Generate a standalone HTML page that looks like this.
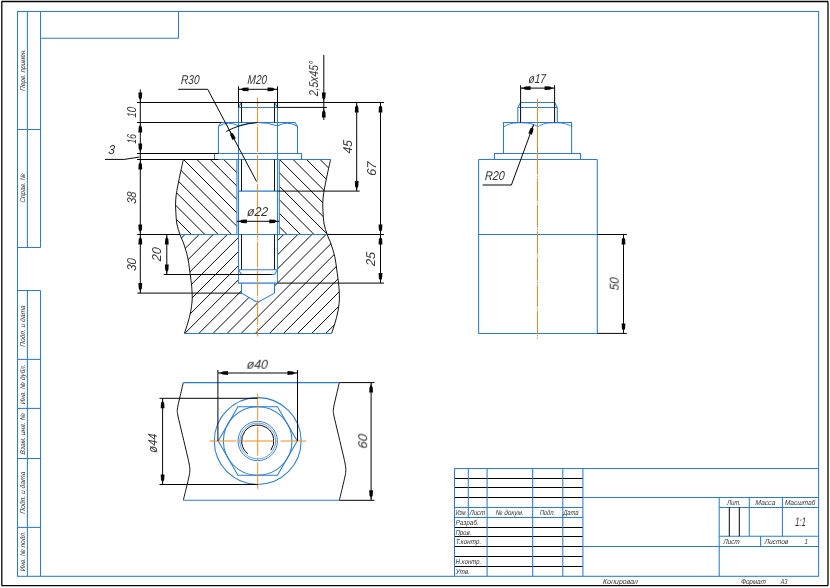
<!DOCTYPE html>
<html><head><meta charset="utf-8"><title>Чертеж</title>
<style>
html,body{margin:0;padding:0;background:#fff;}
body{width:830px;height:588px;overflow:hidden;font-family:"Liberation Sans",sans-serif;}
svg{display:block;}
svg text{font-family:"Liberation Sans",sans-serif;font-style:italic;}
</style></head><body>
<svg width="830" height="588" viewBox="0 0 830 588">
<rect width="830" height="588" fill="#ffffff"/>
<defs>
<clipPath id="ct"><path d="M183.40,159.40 C182.95,161.43 181.62,167.30 180.70,171.60 C179.78,175.90 178.65,181.30 177.90,185.20 C177.15,189.10 176.58,192.03 176.20,195.00 C175.82,197.97 175.67,200.27 175.60,203.00 C175.53,205.73 175.58,207.90 175.80,211.40 C176.02,214.90 176.20,220.15 176.90,224.00 C177.60,227.85 179.48,232.75 180.00,234.50 L236.9,234.5 L236.9,159.5 Z"/><path d="M330.60,159.40 C330.15,161.43 328.82,167.30 327.90,171.60 C326.98,175.90 325.85,181.30 325.10,185.20 C324.35,189.10 323.78,192.03 323.40,195.00 C323.02,197.97 322.87,200.27 322.80,203.00 C322.73,205.73 322.78,207.90 323.00,211.40 C323.22,214.90 323.40,220.15 324.10,224.00 C324.80,227.85 326.68,232.75 327.20,234.50 L279.3,234.5 L279.3,159.5 Z"/></clipPath>
<clipPath id="cb"><path d="M180.00,234.50 C180.63,236.08 182.53,240.27 183.80,244.00 C185.07,247.73 186.63,252.57 187.60,256.90 C188.57,261.23 188.97,265.53 189.60,270.00 C190.23,274.47 190.98,279.83 191.40,283.70 C191.82,287.57 191.98,290.32 192.10,293.20 C192.22,296.08 192.35,297.87 192.10,301.00 C191.85,304.13 191.32,308.33 190.60,312.00 C189.88,315.67 188.83,319.43 187.80,323.00 C186.77,326.57 184.97,331.67 184.40,333.40 L257.6,333.4 L257.6,302.5 L241.5,293.1 L241.5,283.1 L238.5,283.1 L238.5,234.5 Z"/><path d="M327.20,234.50 C327.83,236.08 329.73,240.27 331.00,244.00 C332.27,247.73 333.83,252.57 334.80,256.90 C335.77,261.23 336.17,265.53 336.80,270.00 C337.43,274.47 338.18,279.83 338.60,283.70 C339.02,287.57 339.18,290.32 339.30,293.20 C339.42,296.08 339.55,297.87 339.30,301.00 C339.05,304.13 338.52,308.33 337.80,312.00 C337.08,315.67 336.03,319.43 335.00,323.00 C333.97,326.57 332.17,331.67 331.60,333.40 L257.6,333.4 L257.6,302.5 L274.5,293.1 L274.5,283.1 L277.5,283.1 L277.5,234.5 Z"/></clipPath>
<clipPath id="ctl"><path d="M183.40,159.40 C182.95,161.43 181.62,167.30 180.70,171.60 C179.78,175.90 178.65,181.30 177.90,185.20 C177.15,189.10 176.58,192.03 176.20,195.00 C175.82,197.97 175.67,200.27 175.60,203.00 C175.53,205.73 175.58,207.90 175.80,211.40 C176.02,214.90 176.20,220.15 176.90,224.00 C177.60,227.85 179.48,232.75 180.00,234.50 L236.9,234.5 L236.9,159.5 Z"/></clipPath>
<clipPath id="ctr"><path d="M330.60,159.40 C330.15,161.43 328.82,167.30 327.90,171.60 C326.98,175.90 325.85,181.30 325.10,185.20 C324.35,189.10 323.78,192.03 323.40,195.00 C323.02,197.97 322.87,200.27 322.80,203.00 C322.73,205.73 322.78,207.90 323.00,211.40 C323.22,214.90 323.40,220.15 324.10,224.00 C324.80,227.85 326.68,232.75 327.20,234.50 L279.3,234.5 L279.3,159.5 Z"/></clipPath>
</defs>
<line x1="1.50" y1="1.50" x2="828.00" y2="1.50" stroke="#050505" stroke-width="1.3"/>
<line x1="828.00" y1="1.50" x2="828.00" y2="585.60" stroke="#050505" stroke-width="1.3"/>
<line x1="1.50" y1="585.60" x2="828.00" y2="585.60" stroke="#050505" stroke-width="1.3"/>
<line x1="1.80" y1="1.50" x2="1.80" y2="585.60" stroke="#050505" stroke-width="1.3"/>
<rect x="17.5" y="11.5" width="801.1" height="564.8" fill="none" stroke="#2b7bd6" stroke-width="1.05"/>
<line x1="40.50" y1="38.30" x2="178.50" y2="38.30" stroke="#2b7bd6" stroke-width="1.05"/>
<line x1="178.50" y1="11.50" x2="178.50" y2="38.30" stroke="#2b7bd6" stroke-width="1.05"/>
<line x1="40.50" y1="11.50" x2="40.50" y2="247.50" stroke="#2b7bd6" stroke-width="1.05"/>
<line x1="27.40" y1="11.50" x2="27.40" y2="247.50" stroke="#2b7bd6" stroke-width="1.05"/>
<line x1="17.50" y1="129.50" x2="40.50" y2="129.50" stroke="#2b7bd6" stroke-width="1.05"/>
<line x1="17.50" y1="247.50" x2="40.50" y2="247.50" stroke="#2b7bd6" stroke-width="1.05"/>
<line x1="40.50" y1="290.50" x2="40.50" y2="576.30" stroke="#2b7bd6" stroke-width="1.05"/>
<line x1="27.40" y1="290.50" x2="27.40" y2="576.30" stroke="#2b7bd6" stroke-width="1.05"/>
<line x1="17.50" y1="290.50" x2="40.50" y2="290.50" stroke="#2b7bd6" stroke-width="1.05"/>
<line x1="17.50" y1="359.40" x2="40.50" y2="359.40" stroke="#2b7bd6" stroke-width="1.05"/>
<line x1="17.50" y1="408.40" x2="40.50" y2="408.40" stroke="#2b7bd6" stroke-width="1.05"/>
<line x1="17.50" y1="458.50" x2="40.50" y2="458.50" stroke="#2b7bd6" stroke-width="1.05"/>
<line x1="17.50" y1="527.40" x2="40.50" y2="527.40" stroke="#2b7bd6" stroke-width="1.05"/>
<line x1="454.50" y1="468.50" x2="818.60" y2="468.50" stroke="#2b7bd6" stroke-width="1.05"/>
<line x1="454.50" y1="478.50" x2="582.90" y2="478.50" stroke="#050505" stroke-width="1.1"/>
<line x1="454.50" y1="487.50" x2="582.90" y2="487.50" stroke="#050505" stroke-width="1.1"/>
<line x1="454.50" y1="497.50" x2="582.90" y2="497.50" stroke="#050505" stroke-width="1.1"/>
<line x1="582.90" y1="497.50" x2="818.60" y2="497.50" stroke="#2b7bd6" stroke-width="1.05"/>
<line x1="454.50" y1="507.50" x2="582.90" y2="507.50" stroke="#2b7bd6" stroke-width="1.05"/>
<line x1="454.50" y1="517.50" x2="582.90" y2="517.50" stroke="#2b7bd6" stroke-width="1.05"/>
<line x1="454.50" y1="527.50" x2="582.90" y2="527.50" stroke="#050505" stroke-width="1.1"/>
<line x1="454.50" y1="536.50" x2="582.90" y2="536.50" stroke="#050505" stroke-width="1.1"/>
<line x1="454.50" y1="546.50" x2="582.90" y2="546.50" stroke="#050505" stroke-width="1.1"/>
<line x1="582.90" y1="546.50" x2="818.60" y2="546.50" stroke="#2b7bd6" stroke-width="1.05"/>
<line x1="454.50" y1="556.50" x2="582.90" y2="556.50" stroke="#050505" stroke-width="1.1"/>
<line x1="454.50" y1="566.50" x2="582.90" y2="566.50" stroke="#050505" stroke-width="1.1"/>
<line x1="454.50" y1="468.50" x2="454.50" y2="576.30" stroke="#2b7bd6" stroke-width="1.05"/>
<line x1="468.30" y1="468.50" x2="468.30" y2="517.50" stroke="#2b7bd6" stroke-width="1.05"/>
<line x1="487.10" y1="468.50" x2="487.10" y2="576.30" stroke="#2b7bd6" stroke-width="1.05"/>
<line x1="532.70" y1="468.50" x2="532.70" y2="576.30" stroke="#2b7bd6" stroke-width="1.05"/>
<line x1="562.80" y1="468.50" x2="562.80" y2="576.30" stroke="#2b7bd6" stroke-width="1.05"/>
<line x1="582.90" y1="468.50" x2="582.90" y2="576.30" stroke="#2b7bd6" stroke-width="1.05"/>
<line x1="719.20" y1="497.50" x2="719.20" y2="576.30" stroke="#2b7bd6" stroke-width="1.05"/>
<line x1="749.30" y1="497.50" x2="749.30" y2="536.20" stroke="#2b7bd6" stroke-width="1.05"/>
<line x1="782.40" y1="497.50" x2="782.40" y2="536.20" stroke="#2b7bd6" stroke-width="1.05"/>
<line x1="719.20" y1="507.50" x2="818.60" y2="507.50" stroke="#2b7bd6" stroke-width="1.05"/>
<line x1="719.20" y1="536.20" x2="818.60" y2="536.20" stroke="#2b7bd6" stroke-width="1.05"/>
<line x1="760.60" y1="536.20" x2="760.60" y2="546.50" stroke="#2b7bd6" stroke-width="1.05"/>
<line x1="729.30" y1="507.50" x2="729.30" y2="536.20" stroke="#050505" stroke-width="1.0"/>
<line x1="739.30" y1="507.50" x2="739.30" y2="536.20" stroke="#050505" stroke-width="1.0"/>
<g clip-path="url(#ctl)" stroke="#0a0a0a" stroke-width="1.0"><line x1="-13.60" y1="150" x2="81.40" y2="245"/><line x1="-0.20" y1="150" x2="94.80" y2="245"/><line x1="13.20" y1="150" x2="108.20" y2="245"/><line x1="26.60" y1="150" x2="121.60" y2="245"/><line x1="40.00" y1="150" x2="135.00" y2="245"/><line x1="53.40" y1="150" x2="148.40" y2="245"/><line x1="66.80" y1="150" x2="161.80" y2="245"/><line x1="80.20" y1="150" x2="175.20" y2="245"/><line x1="93.60" y1="150" x2="188.60" y2="245"/><line x1="107.00" y1="150" x2="202.00" y2="245"/><line x1="120.40" y1="150" x2="215.40" y2="245"/><line x1="133.80" y1="150" x2="228.80" y2="245"/><line x1="147.20" y1="150" x2="242.20" y2="245"/><line x1="160.60" y1="150" x2="255.60" y2="245"/><line x1="174.00" y1="150" x2="269.00" y2="245"/><line x1="187.40" y1="150" x2="282.40" y2="245"/><line x1="200.80" y1="150" x2="295.80" y2="245"/><line x1="214.20" y1="150" x2="309.20" y2="245"/><line x1="227.60" y1="150" x2="322.60" y2="245"/><line x1="241.00" y1="150" x2="336.00" y2="245"/><line x1="254.40" y1="150" x2="349.40" y2="245"/><line x1="267.80" y1="150" x2="362.80" y2="245"/><line x1="281.20" y1="150" x2="376.20" y2="245"/><line x1="294.60" y1="150" x2="389.60" y2="245"/><line x1="308.00" y1="150" x2="403.00" y2="245"/><line x1="321.40" y1="150" x2="416.40" y2="245"/><line x1="334.80" y1="150" x2="429.80" y2="245"/><line x1="348.20" y1="150" x2="443.20" y2="245"/><line x1="361.60" y1="150" x2="456.60" y2="245"/><line x1="375.00" y1="150" x2="470.00" y2="245"/></g>
<g clip-path="url(#ctr)" stroke="#0a0a0a" stroke-width="1.0"><line x1="81.10" y1="150" x2="176.10" y2="245"/><line x1="94.60" y1="150" x2="189.60" y2="245"/><line x1="108.10" y1="150" x2="203.10" y2="245"/><line x1="121.60" y1="150" x2="216.60" y2="245"/><line x1="135.10" y1="150" x2="230.10" y2="245"/><line x1="148.60" y1="150" x2="243.60" y2="245"/><line x1="162.10" y1="150" x2="257.10" y2="245"/><line x1="175.60" y1="150" x2="270.60" y2="245"/><line x1="189.10" y1="150" x2="284.10" y2="245"/><line x1="202.60" y1="150" x2="297.60" y2="245"/><line x1="216.10" y1="150" x2="311.10" y2="245"/><line x1="229.60" y1="150" x2="324.60" y2="245"/><line x1="243.10" y1="150" x2="338.10" y2="245"/><line x1="256.60" y1="150" x2="351.60" y2="245"/><line x1="270.10" y1="150" x2="365.10" y2="245"/><line x1="283.60" y1="150" x2="378.60" y2="245"/><line x1="297.10" y1="150" x2="392.10" y2="245"/><line x1="310.60" y1="150" x2="405.60" y2="245"/><line x1="324.10" y1="150" x2="419.10" y2="245"/><line x1="337.60" y1="150" x2="432.60" y2="245"/><line x1="351.10" y1="150" x2="446.10" y2="245"/><line x1="364.60" y1="150" x2="459.60" y2="245"/><line x1="378.10" y1="150" x2="473.10" y2="245"/><line x1="391.60" y1="150" x2="486.60" y2="245"/><line x1="405.10" y1="150" x2="500.10" y2="245"/><line x1="418.60" y1="150" x2="513.60" y2="245"/><line x1="432.10" y1="150" x2="527.10" y2="245"/><line x1="445.60" y1="150" x2="540.60" y2="245"/><line x1="459.10" y1="150" x2="554.10" y2="245"/><line x1="472.60" y1="150" x2="567.60" y2="245"/></g>
<g clip-path="url(#cb)" stroke="#0a0a0a" stroke-width="1.0"><line x1="67.60" y1="225" x2="-52.40" y2="345"/><line x1="81.70" y1="225" x2="-38.30" y2="345"/><line x1="95.80" y1="225" x2="-24.20" y2="345"/><line x1="109.90" y1="225" x2="-10.10" y2="345"/><line x1="124.00" y1="225" x2="4.00" y2="345"/><line x1="138.10" y1="225" x2="18.10" y2="345"/><line x1="152.20" y1="225" x2="32.20" y2="345"/><line x1="166.30" y1="225" x2="46.30" y2="345"/><line x1="180.40" y1="225" x2="60.40" y2="345"/><line x1="194.50" y1="225" x2="74.50" y2="345"/><line x1="208.60" y1="225" x2="88.60" y2="345"/><line x1="222.70" y1="225" x2="102.70" y2="345"/><line x1="236.80" y1="225" x2="116.80" y2="345"/><line x1="250.90" y1="225" x2="130.90" y2="345"/><line x1="265.00" y1="225" x2="145.00" y2="345"/><line x1="279.10" y1="225" x2="159.10" y2="345"/><line x1="293.20" y1="225" x2="173.20" y2="345"/><line x1="307.30" y1="225" x2="187.30" y2="345"/><line x1="321.40" y1="225" x2="201.40" y2="345"/><line x1="335.50" y1="225" x2="215.50" y2="345"/><line x1="349.60" y1="225" x2="229.60" y2="345"/><line x1="363.70" y1="225" x2="243.70" y2="345"/><line x1="377.80" y1="225" x2="257.80" y2="345"/><line x1="391.90" y1="225" x2="271.90" y2="345"/><line x1="406.00" y1="225" x2="286.00" y2="345"/><line x1="420.10" y1="225" x2="300.10" y2="345"/><line x1="434.20" y1="225" x2="314.20" y2="345"/><line x1="448.30" y1="225" x2="328.30" y2="345"/></g>
<path d="M183.40,159.40 C182.95,161.43 181.62,167.30 180.70,171.60 C179.78,175.90 178.65,181.30 177.90,185.20 C177.15,189.10 176.58,192.03 176.20,195.00 C175.82,197.97 175.67,200.27 175.60,203.00 C175.53,205.73 175.58,207.90 175.80,211.40 C176.02,214.90 176.20,220.15 176.90,224.00 C177.60,227.85 178.85,231.17 180.00,234.50 C181.15,237.83 182.53,240.27 183.80,244.00 C185.07,247.73 186.63,252.57 187.60,256.90 C188.57,261.23 188.97,265.53 189.60,270.00 C190.23,274.47 190.98,279.83 191.40,283.70 C191.82,287.57 191.98,290.32 192.10,293.20 C192.22,296.08 192.35,297.87 192.10,301.00 C191.85,304.13 191.32,308.33 190.60,312.00 C189.88,315.67 188.83,319.43 187.80,323.00 C186.77,326.57 184.97,331.67 184.40,333.40 " stroke="#050505" stroke-width="0.95" fill="none" />
<path d="M330.60,159.40 C330.15,161.43 328.82,167.30 327.90,171.60 C326.98,175.90 325.85,181.30 325.10,185.20 C324.35,189.10 323.78,192.03 323.40,195.00 C323.02,197.97 322.87,200.27 322.80,203.00 C322.73,205.73 322.78,207.90 323.00,211.40 C323.22,214.90 323.40,220.15 324.10,224.00 C324.80,227.85 326.05,231.17 327.20,234.50 C328.35,237.83 329.73,240.27 331.00,244.00 C332.27,247.73 333.83,252.57 334.80,256.90 C335.77,261.23 336.17,265.53 336.80,270.00 C337.43,274.47 338.18,279.83 338.60,283.70 C339.02,287.57 339.18,290.32 339.30,293.20 C339.42,296.08 339.55,297.87 339.30,301.00 C339.05,304.13 338.52,308.33 337.80,312.00 C337.08,315.67 336.03,319.43 335.00,323.00 C333.97,326.57 332.17,331.67 331.60,333.40 " stroke="#050505" stroke-width="0.95" fill="none" />
<line x1="183.40" y1="159.50" x2="236.90" y2="159.50" stroke="#2b7bd6" stroke-width="1.05"/>
<line x1="279.30" y1="159.50" x2="330.60" y2="159.50" stroke="#2b7bd6" stroke-width="1.05"/>
<line x1="180.00" y1="234.50" x2="327.20" y2="234.50" stroke="#2b7bd6" stroke-width="1.05"/>
<line x1="184.40" y1="333.40" x2="331.60" y2="333.40" stroke="#2b7bd6" stroke-width="1.05"/>
<line x1="236.90" y1="159.50" x2="236.90" y2="234.50" stroke="#2b7bd6" stroke-width="1.05"/>
<line x1="279.30" y1="159.50" x2="279.30" y2="234.50" stroke="#2b7bd6" stroke-width="1.05"/>
<path d="M214.5,159.5 L214.5,153.5 L301.5,153.5 L301.5,159.5 Z" stroke="#2b7bd6" stroke-width="1.05" fill="none" />
<path d="M218.4,153.5 L218.4,126.3 L221.0,122.5 L294.9,122.5 L297.5,126.3 L297.5,153.5" stroke="#2b7bd6" stroke-width="1.05" fill="none" />
<line x1="238.50" y1="122.50" x2="238.50" y2="153.50" stroke="#2b7bd6" stroke-width="1.05"/>
<line x1="277.50" y1="122.50" x2="277.50" y2="153.50" stroke="#2b7bd6" stroke-width="1.05"/>
<path d="M238.5,125.9 Q257.6,119.1 277.5,125.9" stroke="#2b7bd6" stroke-width="1.0" fill="none" />
<path d="M218.4,126.3 Q228.45,120.3 238.5,125.9" stroke="#2b7bd6" stroke-width="1.0" fill="none" />
<path d="M277.5,125.9 Q287.5,120.3 297.5,126.3" stroke="#2b7bd6" stroke-width="1.0" fill="none" />
<line x1="238.50" y1="107.40" x2="238.50" y2="269.80" stroke="#2b7bd6" stroke-width="1.05"/>
<line x1="277.50" y1="107.40" x2="277.50" y2="269.80" stroke="#2b7bd6" stroke-width="1.05"/>
<line x1="238.50" y1="107.40" x2="277.50" y2="107.40" stroke="#2b7bd6" stroke-width="1.05"/>
<line x1="238.50" y1="107.40" x2="241.50" y2="102.50" stroke="#2b7bd6" stroke-width="1.05"/>
<line x1="277.50" y1="107.40" x2="274.50" y2="102.50" stroke="#2b7bd6" stroke-width="1.05"/>
<line x1="241.50" y1="102.50" x2="274.50" y2="102.50" stroke="#2b7bd6" stroke-width="1.05"/>
<line x1="238.50" y1="191.10" x2="277.50" y2="191.10" stroke="#2b7bd6" stroke-width="1.05"/>
<line x1="241.50" y1="102.50" x2="241.50" y2="122.50" stroke="#050505" stroke-width="0.95"/>
<line x1="274.50" y1="102.50" x2="274.50" y2="122.50" stroke="#050505" stroke-width="0.95"/>
<line x1="241.50" y1="159.50" x2="241.50" y2="191.10" stroke="#050505" stroke-width="0.95"/>
<line x1="274.50" y1="159.50" x2="274.50" y2="191.10" stroke="#050505" stroke-width="0.95"/>
<line x1="241.50" y1="234.50" x2="241.50" y2="269.80" stroke="#050505" stroke-width="0.95"/>
<line x1="274.50" y1="234.50" x2="274.50" y2="269.80" stroke="#050505" stroke-width="0.95"/>
<line x1="238.50" y1="269.80" x2="277.50" y2="269.80" stroke="#2b7bd6" stroke-width="1.05"/>
<line x1="238.50" y1="269.80" x2="241.50" y2="274.50" stroke="#2b7bd6" stroke-width="1.05"/>
<line x1="277.50" y1="269.80" x2="274.50" y2="274.50" stroke="#2b7bd6" stroke-width="1.05"/>
<line x1="241.50" y1="274.50" x2="274.50" y2="274.50" stroke="#2b7bd6" stroke-width="1.05"/>
<line x1="238.50" y1="269.80" x2="238.50" y2="283.10" stroke="#2b7bd6" stroke-width="0.9"/>
<line x1="277.50" y1="269.80" x2="277.50" y2="283.10" stroke="#2b7bd6" stroke-width="0.9"/>
<line x1="238.50" y1="283.10" x2="277.50" y2="283.10" stroke="#2b7bd6" stroke-width="1.05"/>
<line x1="241.50" y1="283.10" x2="241.50" y2="293.10" stroke="#2b7bd6" stroke-width="1.05"/>
<line x1="274.50" y1="283.10" x2="274.50" y2="293.10" stroke="#2b7bd6" stroke-width="1.05"/>
<path d="M241.5,293.1 L257.6,302.5 L274.5,293.1" stroke="#2b7bd6" stroke-width="1.05" fill="none" />
<line x1="257.6" y1="97.7" x2="257.6" y2="336.5" stroke="#f08a1e" stroke-width="1" stroke-dasharray="25.3 1.2 1.1 1.2"/>
<line x1="140.30" y1="89.40" x2="140.30" y2="293.20" stroke="#050505" stroke-width="1.0"/>
<line x1="137.20" y1="102.50" x2="241.50" y2="102.50" stroke="#050505" stroke-width="1.0"/>
<line x1="137.20" y1="122.50" x2="218.40" y2="122.50" stroke="#050505" stroke-width="1.0"/>
<line x1="137.20" y1="153.50" x2="218.40" y2="153.50" stroke="#050505" stroke-width="1.0"/>
<line x1="137.20" y1="159.50" x2="218.40" y2="159.50" stroke="#050505" stroke-width="1.0"/>
<line x1="137.20" y1="102.50" x2="323.80" y2="102.50" stroke="#050505" stroke-width="1.0"/>
<line x1="137.20" y1="122.50" x2="221.40" y2="122.50" stroke="#050505" stroke-width="1.0"/>
<line x1="137.20" y1="153.50" x2="214.50" y2="153.50" stroke="#050505" stroke-width="1.0"/>
<line x1="137.20" y1="159.50" x2="183.40" y2="159.50" stroke="#050505" stroke-width="1.0"/>
<line x1="137.20" y1="234.50" x2="180.00" y2="234.50" stroke="#050505" stroke-width="1.0"/>
<line x1="137.20" y1="293.10" x2="241.50" y2="293.10" stroke="#050505" stroke-width="1.0"/>
<polygon points="140.30,102.50 139.75,99.30 138.70,97.90 138.40,92.50 142.20,92.50 141.90,97.90 140.85,99.30" fill="#050505"/>
<polygon points="140.30,122.50 140.85,125.70 141.90,127.10 142.20,132.50 138.40,132.50 138.70,127.10 139.75,125.70" fill="#050505"/>
<polygon points="140.30,153.50 139.75,150.30 138.70,148.90 138.40,143.50 142.20,143.50 141.90,148.90 140.85,150.30" fill="#050505"/>
<polygon points="140.30,159.50 140.85,162.70 141.90,164.10 142.20,169.50 138.40,169.50 138.70,164.10 139.75,162.70" fill="#050505"/>
<polygon points="140.30,234.50 139.75,231.30 138.70,229.90 138.40,224.50 142.20,224.50 141.90,229.90 140.85,231.30" fill="#050505"/>
<polygon points="140.30,234.50 140.85,237.70 141.90,239.10 142.20,244.50 138.40,244.50 138.70,239.10 139.75,237.70" fill="#050505"/>
<polygon points="140.30,293.10 139.75,289.90 138.70,288.50 138.40,283.10 142.20,283.10 141.90,288.50 140.85,289.90" fill="#050505"/>
<line x1="105.00" y1="159.40" x2="124.60" y2="159.40" stroke="#050505" stroke-width="1.0"/>
<line x1="124.60" y1="159.40" x2="139.50" y2="157.00" stroke="#050505" stroke-width="1.0"/>
<line x1="166.80" y1="234.50" x2="166.80" y2="274.50" stroke="#050505" stroke-width="1.0"/>
<line x1="163.80" y1="274.50" x2="271.50" y2="274.50" stroke="#050505" stroke-width="1.0"/>
<polygon points="166.80,234.50 167.35,237.70 168.40,239.10 168.70,244.50 164.90,244.50 165.20,239.10 166.25,237.70" fill="#050505"/>
<polygon points="166.80,274.50 166.25,271.30 165.20,269.90 164.90,264.50 168.70,264.50 168.40,269.90 167.35,271.30" fill="#050505"/>
<line x1="236.90" y1="221.30" x2="279.30" y2="221.30" stroke="#050505" stroke-width="1.0"/>
<polygon points="236.90,221.30 240.10,220.75 241.50,219.70 246.90,219.40 246.90,223.20 241.50,222.90 240.10,221.85" fill="#050505"/>
<polygon points="279.30,221.30 276.10,221.85 274.70,222.90 269.30,223.20 269.30,219.40 274.70,219.70 276.10,220.75" fill="#050505"/>
<line x1="238.50" y1="86.30" x2="238.50" y2="107.40" stroke="#050505" stroke-width="1.0"/>
<line x1="277.50" y1="86.30" x2="277.50" y2="107.40" stroke="#050505" stroke-width="1.0"/>
<line x1="238.50" y1="89.30" x2="277.50" y2="89.30" stroke="#050505" stroke-width="1.0"/>
<polygon points="238.50,89.30 241.70,88.75 243.10,87.70 248.50,87.40 248.50,91.20 243.10,90.90 241.70,89.85" fill="#050505"/>
<polygon points="277.50,89.30 274.30,89.85 272.90,90.90 267.50,91.20 267.50,87.40 272.90,87.70 274.30,88.75" fill="#050505"/>
<line x1="178.20" y1="89.30" x2="207.70" y2="89.30" stroke="#050505" stroke-width="1.0"/>
<line x1="207.70" y1="89.30" x2="256.60" y2="181.50" stroke="#050505" stroke-width="1.0"/>
<polygon points="229.40,130.20 231.39,132.77 232.97,133.51 235.77,138.14 232.42,139.92 230.15,135.01 230.42,133.28" fill="#050505"/>
<path d="M226.2,131.4 Q240,124 257.6,122.5" stroke="#050505" stroke-width="0.95" fill="none" />
<line x1="323.80" y1="55.00" x2="323.80" y2="120.00" stroke="#050505" stroke-width="1.0"/>
<line x1="277.50" y1="107.40" x2="327.00" y2="107.40" stroke="#050505" stroke-width="1.0"/>
<polygon points="323.80,102.50 323.25,99.30 322.20,97.90 321.90,92.50 325.70,92.50 325.40,97.90 324.35,99.30" fill="#050505"/>
<polygon points="323.80,107.40 324.35,110.60 325.40,112.00 325.70,117.40 321.90,117.40 322.20,112.00 323.25,110.60" fill="#050505"/>
<line x1="323.80" y1="102.50" x2="384.00" y2="102.50" stroke="#050505" stroke-width="1.0"/>
<line x1="356.70" y1="102.50" x2="356.70" y2="191.10" stroke="#050505" stroke-width="1.0"/>
<line x1="277.50" y1="191.10" x2="359.70" y2="191.10" stroke="#050505" stroke-width="1.0"/>
<polygon points="356.70,102.50 357.25,105.70 358.30,107.10 358.60,112.50 354.80,112.50 355.10,107.10 356.15,105.70" fill="#050505"/>
<polygon points="356.70,191.10 356.15,187.90 355.10,186.50 354.80,181.10 358.60,181.10 358.30,186.50 357.25,187.90" fill="#050505"/>
<line x1="380.50" y1="102.50" x2="380.50" y2="283.10" stroke="#050505" stroke-width="1.0"/>
<line x1="327.20" y1="234.50" x2="384.00" y2="234.50" stroke="#050505" stroke-width="1.0"/>
<line x1="277.50" y1="283.10" x2="384.00" y2="283.10" stroke="#050505" stroke-width="1.0"/>
<polygon points="380.50,102.50 381.05,105.70 382.10,107.10 382.40,112.50 378.60,112.50 378.90,107.10 379.95,105.70" fill="#050505"/>
<polygon points="380.50,234.50 379.95,231.30 378.90,229.90 378.60,224.50 382.40,224.50 382.10,229.90 381.05,231.30" fill="#050505"/>
<polygon points="380.50,234.50 381.05,237.70 382.10,239.10 382.40,244.50 378.60,244.50 378.90,239.10 379.95,237.70" fill="#050505"/>
<polygon points="380.50,283.10 379.95,279.90 378.90,278.50 378.60,273.10 382.40,273.10 382.10,278.50 381.05,279.90" fill="#050505"/>
<line x1="478.60" y1="159.50" x2="597.30" y2="159.50" stroke="#2b7bd6" stroke-width="1.05"/>
<line x1="478.60" y1="159.50" x2="478.60" y2="333.40" stroke="#2b7bd6" stroke-width="1.05"/>
<line x1="597.30" y1="159.50" x2="597.30" y2="333.40" stroke="#2b7bd6" stroke-width="1.05"/>
<line x1="478.60" y1="234.50" x2="597.30" y2="234.50" stroke="#2b7bd6" stroke-width="1.05"/>
<line x1="478.60" y1="333.40" x2="597.30" y2="333.40" stroke="#2b7bd6" stroke-width="1.05"/>
<path d="M494.5,159.5 L494.5,153.5 L580.5,153.5 L580.5,159.5" stroke="#2b7bd6" stroke-width="1.05" fill="none" />
<path d="M503.5,153.5 L503.5,122.5 L571.6,122.5 L571.6,153.5" stroke="#2b7bd6" stroke-width="1.05" fill="none" />
<line x1="537.50" y1="122.50" x2="537.50" y2="153.50" stroke="#2b7bd6" stroke-width="1.05"/>
<path d="M503.5,127.1 Q508.5,122.9 518.5,122.8 L522.5,122.8 Q532.5,122.9 537.5,126.5" stroke="#2b7bd6" stroke-width="0.9" fill="none" />
<path d="M537.5,127.1 Q542.5,122.9 552.5,122.8 L556.6,122.8 Q566.6,122.9 571.6,126.5" stroke="#2b7bd6" stroke-width="0.9" fill="none" />
<line x1="517.80" y1="107.40" x2="517.80" y2="122.50" stroke="#2b7bd6" stroke-width="1.05"/>
<line x1="557.30" y1="107.40" x2="557.30" y2="122.50" stroke="#2b7bd6" stroke-width="1.05"/>
<line x1="517.80" y1="107.40" x2="557.30" y2="107.40" stroke="#2b7bd6" stroke-width="1.05"/>
<line x1="517.80" y1="107.40" x2="520.60" y2="102.50" stroke="#2b7bd6" stroke-width="1.05"/>
<line x1="557.30" y1="107.40" x2="554.60" y2="102.50" stroke="#2b7bd6" stroke-width="1.05"/>
<line x1="520.60" y1="102.50" x2="554.60" y2="102.50" stroke="#2b7bd6" stroke-width="1.05"/>
<line x1="520.60" y1="85.20" x2="520.60" y2="122.50" stroke="#050505" stroke-width="1.0"/>
<line x1="554.60" y1="85.20" x2="554.60" y2="122.50" stroke="#050505" stroke-width="1.0"/>
<line x1="520.60" y1="88.10" x2="554.60" y2="88.10" stroke="#050505" stroke-width="1.0"/>
<polygon points="520.60,88.10 523.80,87.55 525.20,86.50 530.60,86.20 530.60,90.00 525.20,89.70 523.80,88.65" fill="#050505"/>
<polygon points="554.60,88.10 551.40,88.65 550.00,89.70 544.60,90.00 544.60,86.20 550.00,86.50 551.40,87.55" fill="#050505"/>
<line x1="537.5" y1="98.7" x2="537.5" y2="338.5" stroke="#f08a1e" stroke-width="1" stroke-dasharray="23 1.2 1.1 1.2"/>
<line x1="482.60" y1="185.00" x2="511.40" y2="185.00" stroke="#050505" stroke-width="1.0"/>
<line x1="511.40" y1="185.00" x2="533.60" y2="124.60" stroke="#050505" stroke-width="1.0"/>
<polygon points="533.60,124.60 533.01,127.79 533.50,129.47 531.91,134.64 528.35,133.32 530.50,128.36 531.97,127.41" fill="#050505"/>
<line x1="597.30" y1="234.50" x2="626.80" y2="234.50" stroke="#050505" stroke-width="1.0"/>
<line x1="597.30" y1="333.40" x2="626.80" y2="333.40" stroke="#050505" stroke-width="1.0"/>
<line x1="623.50" y1="234.50" x2="623.50" y2="333.40" stroke="#050505" stroke-width="1.0"/>
<polygon points="623.50,234.50 624.05,237.70 625.10,239.10 625.40,244.50 621.60,244.50 621.90,239.10 622.95,237.70" fill="#050505"/>
<polygon points="623.50,333.40 622.95,330.20 621.90,328.80 621.60,323.40 625.40,323.40 625.10,328.80 624.05,330.20" fill="#050505"/>
<path d="M183.30,382.60 C182.82,384.67 181.30,391.10 180.40,395.00 C179.50,398.90 178.42,403.25 177.90,406.00 C177.38,408.75 177.25,409.67 177.30,411.50 C177.35,413.33 177.50,413.75 178.20,417.00 C178.90,420.25 180.20,425.50 181.50,431.00 C182.80,436.50 184.75,444.67 186.00,450.00 C187.25,455.33 188.37,459.75 189.00,463.00 C189.63,466.25 189.77,467.42 189.80,469.50 C189.83,471.58 189.78,472.42 189.20,475.50 C188.62,478.58 187.28,483.87 186.30,488.00 C185.32,492.13 183.80,498.25 183.30,500.30 " stroke="#050505" stroke-width="0.95" fill="none" />
<path d="M339.30,382.60 C338.82,384.67 337.30,391.10 336.40,395.00 C335.50,398.90 334.42,403.25 333.90,406.00 C333.38,408.75 333.25,409.67 333.30,411.50 C333.35,413.33 333.50,413.75 334.20,417.00 C334.90,420.25 336.20,425.50 337.50,431.00 C338.80,436.50 340.75,444.67 342.00,450.00 C343.25,455.33 344.37,459.75 345.00,463.00 C345.63,466.25 345.77,467.42 345.80,469.50 C345.83,471.58 345.78,472.42 345.20,475.50 C344.62,478.58 343.28,483.87 342.30,488.00 C341.32,492.13 339.80,498.25 339.30,500.30 " stroke="#050505" stroke-width="0.95" fill="none" />
<line x1="183.30" y1="382.60" x2="339.30" y2="382.60" stroke="#2b7bd6" stroke-width="1.05"/>
<line x1="183.30" y1="500.30" x2="339.30" y2="500.30" stroke="#2b7bd6" stroke-width="1.05"/>
<circle cx="257.70" cy="441.00" r="43.40" stroke="#2b7bd6" stroke-width="1.05" fill="none"/>
<polygon points="297.20,441.00 277.45,475.21 237.95,475.21 218.20,441.00 237.95,406.79 277.45,406.79" fill="none" stroke="#2b7bd6" stroke-width="1.05"/>
<circle cx="257.70" cy="441.00" r="34.30" stroke="#2b7bd6" stroke-width="1.05" fill="none"/>
<circle cx="257.70" cy="441.00" r="19.70" stroke="#2b7bd6" stroke-width="0.95" fill="none"/>
<circle cx="257.70" cy="441.00" r="17.90" stroke="#2b7bd6" stroke-width="0.7" fill="none"/>
<path d="M247.79,453.69 A16.1,16.1 0 1 1 270.89,450.23" stroke="#050505" stroke-width="1.0" fill="none" />
<line x1="209.80" y1="441.00" x2="236.50" y2="441.00" stroke="#f08a1e" stroke-width="1.0"/>
<line x1="239.20" y1="441.00" x2="240.80" y2="441.00" stroke="#f08a1e" stroke-width="1.0"/>
<line x1="243.30" y1="441.00" x2="273.80" y2="441.00" stroke="#f08a1e" stroke-width="1.0"/>
<line x1="276.30" y1="441.00" x2="277.90" y2="441.00" stroke="#f08a1e" stroke-width="1.0"/>
<line x1="280.50" y1="441.00" x2="306.20" y2="441.00" stroke="#f08a1e" stroke-width="1.0"/>
<line x1="257.70" y1="393.60" x2="257.70" y2="420.30" stroke="#f08a1e" stroke-width="1.0"/>
<line x1="257.70" y1="423.00" x2="257.70" y2="424.60" stroke="#f08a1e" stroke-width="1.0"/>
<line x1="257.70" y1="427.20" x2="257.70" y2="455.60" stroke="#f08a1e" stroke-width="1.0"/>
<line x1="257.70" y1="458.20" x2="257.70" y2="459.80" stroke="#f08a1e" stroke-width="1.0"/>
<line x1="257.70" y1="462.40" x2="257.70" y2="488.80" stroke="#f08a1e" stroke-width="1.0"/>
<line x1="217.90" y1="370.00" x2="217.90" y2="441.00" stroke="#050505" stroke-width="1.0"/>
<line x1="297.50" y1="370.00" x2="297.50" y2="441.00" stroke="#050505" stroke-width="1.0"/>
<line x1="218.20" y1="373.00" x2="297.20" y2="373.00" stroke="#050505" stroke-width="1.0"/>
<polygon points="217.90,373.00 221.10,372.45 222.50,371.40 227.90,371.10 227.90,374.90 222.50,374.60 221.10,373.55" fill="#050505"/>
<polygon points="297.50,373.00 294.30,373.55 292.90,374.60 287.50,374.90 287.50,371.10 292.90,371.40 294.30,372.45" fill="#050505"/>
<line x1="159.50" y1="398.30" x2="257.70" y2="398.30" stroke="#050505" stroke-width="1.0"/>
<line x1="159.50" y1="484.50" x2="257.70" y2="484.50" stroke="#050505" stroke-width="1.0"/>
<line x1="162.60" y1="398.30" x2="162.60" y2="484.50" stroke="#050505" stroke-width="1.0"/>
<polygon points="162.60,398.30 163.15,401.50 164.20,402.90 164.50,408.30 160.70,408.30 161.00,402.90 162.05,401.50" fill="#050505"/>
<polygon points="162.60,484.50 162.05,481.30 161.00,479.90 160.70,474.50 164.50,474.50 164.20,479.90 163.15,481.30" fill="#050505"/>
<line x1="339.30" y1="382.60" x2="374.50" y2="382.60" stroke="#050505" stroke-width="1.0"/>
<line x1="339.30" y1="500.30" x2="374.50" y2="500.30" stroke="#050505" stroke-width="1.0"/>
<line x1="371.10" y1="382.60" x2="371.10" y2="500.30" stroke="#050505" stroke-width="1.0"/>
<polygon points="371.10,382.60 371.65,385.80 372.70,387.20 373.00,392.60 369.20,392.60 369.50,387.20 370.55,385.80" fill="#050505"/>
<polygon points="371.10,500.30 370.55,497.10 369.50,495.70 369.20,490.30 373.00,490.30 372.70,495.70 371.65,497.10" fill="#050505"/>
<g opacity="0.999">
<text transform="translate(22.60,69.80) rotate(-90) scale(0.915,1) skewX(-4)" x="0" y="2.48" font-size="6.9" text-anchor="middle" fill="#333333">Перв. примен.</text>
<text transform="translate(22.60,188.00) rotate(-90) scale(0.938,1) skewX(-4)" x="0" y="2.48" font-size="6.9" text-anchor="middle" fill="#333333">Справ. №</text>
<text transform="translate(22.60,326.00) rotate(-90) scale(0.960,1) skewX(-4)" x="0" y="2.48" font-size="6.9" text-anchor="middle" fill="#333333">Подп. и дата</text>
<text transform="translate(22.60,384.30) rotate(-90) scale(0.948,1) skewX(-4)" x="0" y="2.48" font-size="6.9" text-anchor="middle" fill="#333333">Инв. № дубл.</text>
<text transform="translate(22.60,433.80) rotate(-90) scale(0.983,1) skewX(-4)" x="0" y="2.48" font-size="6.9" text-anchor="middle" fill="#333333">Взам. инв. №</text>
<text transform="translate(22.60,492.60) rotate(-90) scale(0.978,1) skewX(-4)" x="0" y="2.48" font-size="6.9" text-anchor="middle" fill="#333333">Подп. и дата</text>
<text transform="translate(22.60,551.20) rotate(-90) scale(0.940,1) skewX(-4)" x="0" y="2.48" font-size="6.9" text-anchor="middle" fill="#333333">Инв. № подл.</text>
<text transform="translate(461.30,512.80) scale(0.738,1) skewX(-4)" x="0" y="2.63" font-size="7.3" text-anchor="middle" fill="#333333">Изм.</text>
<text transform="translate(477.40,512.80) scale(0.823,1) skewX(-4)" x="0" y="2.63" font-size="7.3" text-anchor="middle" fill="#333333">Лист</text>
<text transform="translate(509.80,512.80) scale(0.879,1) skewX(-4)" x="0" y="2.63" font-size="7.3" text-anchor="middle" fill="#333333">№ докум.</text>
<text transform="translate(547.50,512.80) scale(0.796,1) skewX(-4)" x="0" y="2.63" font-size="7.3" text-anchor="middle" fill="#333333">Подп.</text>
<text transform="translate(571.00,512.80) scale(0.793,1) skewX(-4)" x="0" y="2.63" font-size="7.3" text-anchor="middle" fill="#333333">Дата</text>
<text transform="translate(455.60,522.80) scale(0.881,1) skewX(-4)" x="0" y="2.63" font-size="7.3" text-anchor="start" fill="#333333">Разраб.</text>
<text transform="translate(455.60,532.30) scale(0.819,1) skewX(-4)" x="0" y="2.63" font-size="7.3" text-anchor="start" fill="#333333">Пров.</text>
<text transform="translate(455.60,541.80) scale(0.875,1) skewX(-4)" x="0" y="2.63" font-size="7.3" text-anchor="start" fill="#333333">Т.контр.</text>
<text transform="translate(455.60,561.80) scale(0.833,1) skewX(-4)" x="0" y="2.63" font-size="7.3" text-anchor="start" fill="#333333">Н.контр.</text>
<text transform="translate(455.60,571.70) scale(0.873,1) skewX(-4)" x="0" y="2.63" font-size="7.3" text-anchor="start" fill="#333333">Утв.</text>
<text transform="translate(734.00,502.80) scale(0.806,1) skewX(-4)" x="0" y="2.63" font-size="7.3" text-anchor="middle" fill="#333333">Лит.</text>
<text transform="translate(765.40,502.80) scale(0.925,1) skewX(-4)" x="0" y="2.63" font-size="7.3" text-anchor="middle" fill="#333333">Масса</text>
<text transform="translate(800.20,502.80) scale(0.896,1) skewX(-4)" x="0" y="2.63" font-size="7.3" text-anchor="middle" fill="#333333">Масштаб</text>
<text transform="translate(800.50,521.80) scale(0.622,1) skewX(-4)" x="0" y="4.50" font-size="12.5" text-anchor="middle" fill="#333333">1:1</text>
<text transform="translate(723.30,541.60) scale(0.866,1) skewX(-4)" x="0" y="2.63" font-size="7.3" text-anchor="start" fill="#333333">Лист</text>
<text transform="translate(764.60,541.60) scale(0.894,1) skewX(-4)" x="0" y="2.63" font-size="7.3" text-anchor="start" fill="#333333">Листов</text>
<text transform="translate(806.20,541.60) scale(0.800,1) skewX(-4)" x="0" y="2.63" font-size="7.3" text-anchor="middle" fill="#333333">1</text>
<text transform="translate(620.50,581.20) scale(0.965,1) skewX(-4)" x="0" y="2.63" font-size="7.3" text-anchor="middle" fill="#333333">Копировал</text>
<text transform="translate(753.50,581.20) scale(0.861,1) skewX(-4)" x="0" y="2.63" font-size="7.3" text-anchor="middle" fill="#333333">Формат</text>
<text transform="translate(784.20,581.20) scale(0.727,1) skewX(-4)" x="0" y="2.63" font-size="7.3" text-anchor="middle" fill="#333333">А3</text>
<text transform="translate(131.00,112.20) rotate(-90) scale(0.758,1) skewX(-4)" x="0" y="4.61" font-size="12.8" text-anchor="middle" fill="#333333">10</text>
<text transform="translate(131.00,138.80) rotate(-90) scale(0.667,1) skewX(-4)" x="0" y="4.61" font-size="12.8" text-anchor="middle" fill="#333333">16</text>
<text transform="translate(131.50,197.70) rotate(-90) scale(0.863,1) skewX(-4)" x="0" y="4.61" font-size="12.8" text-anchor="middle" fill="#333333">38</text>
<text transform="translate(131.50,264.40) rotate(-90) scale(0.891,1) skewX(-4)" x="0" y="4.61" font-size="12.8" text-anchor="middle" fill="#333333">30</text>
<text transform="translate(111.60,149.20) scale(0.954,1) skewX(-4)" x="0" y="4.61" font-size="12.8" text-anchor="middle" fill="#333333">3</text>
<text transform="translate(156.00,254.20) rotate(-90) scale(0.982,1) skewX(-4)" x="0" y="4.61" font-size="12.8" text-anchor="middle" fill="#333333">20</text>
<text transform="translate(257.60,211.80) scale(0.956,1) skewX(-4)" x="0" y="4.61" font-size="12.8" text-anchor="middle" fill="#333333">ø22</text>
<text transform="translate(257.40,79.80) scale(0.786,1) skewX(-4)" x="0" y="4.61" font-size="12.8" text-anchor="middle" fill="#333333">M20</text>
<text transform="translate(190.30,79.80) scale(0.791,1) skewX(-4)" x="0" y="4.61" font-size="12.8" text-anchor="middle" fill="#333333">R30</text>
<text transform="translate(313.00,78.40) rotate(-90) scale(0.812,1) skewX(-4)" x="0" y="4.61" font-size="12.8" text-anchor="middle" fill="#333333">2,5x45°</text>
<text transform="translate(347.00,146.80) rotate(-90) scale(0.919,1) skewX(-4)" x="0" y="4.61" font-size="12.8" text-anchor="middle" fill="#333333">45</text>
<text transform="translate(371.20,168.80) rotate(-90) scale(0.982,1) skewX(-4)" x="0" y="4.61" font-size="12.8" text-anchor="middle" fill="#333333">67</text>
<text transform="translate(370.60,259.00) rotate(-90) scale(0.982,1) skewX(-4)" x="0" y="4.61" font-size="12.8" text-anchor="middle" fill="#333333">25</text>
<text transform="translate(537.20,78.40) scale(0.793,1) skewX(-4)" x="0" y="4.61" font-size="12.8" text-anchor="middle" fill="#333333">ø17</text>
<text transform="translate(494.80,175.40) scale(0.842,1) skewX(-4)" x="0" y="4.61" font-size="12.8" text-anchor="middle" fill="#333333">R20</text>
<text transform="translate(613.70,283.70) rotate(-90) scale(0.912,1) skewX(-4)" x="0" y="4.61" font-size="12.8" text-anchor="middle" fill="#333333">50</text>
<text transform="translate(257.30,363.80) scale(0.956,1) skewX(-4)" x="0" y="4.61" font-size="12.8" text-anchor="middle" fill="#333333">ø40</text>
<text transform="translate(152.00,443.00) rotate(-90) scale(0.874,1) skewX(-4)" x="0" y="4.61" font-size="12.8" text-anchor="middle" fill="#333333">ø44</text>
<text transform="translate(362.20,441.20) rotate(-90) scale(1.031,1) skewX(-4)" x="0" y="4.61" font-size="12.8" text-anchor="middle" fill="#333333">60</text>
</g>
</svg>
</body></html>
